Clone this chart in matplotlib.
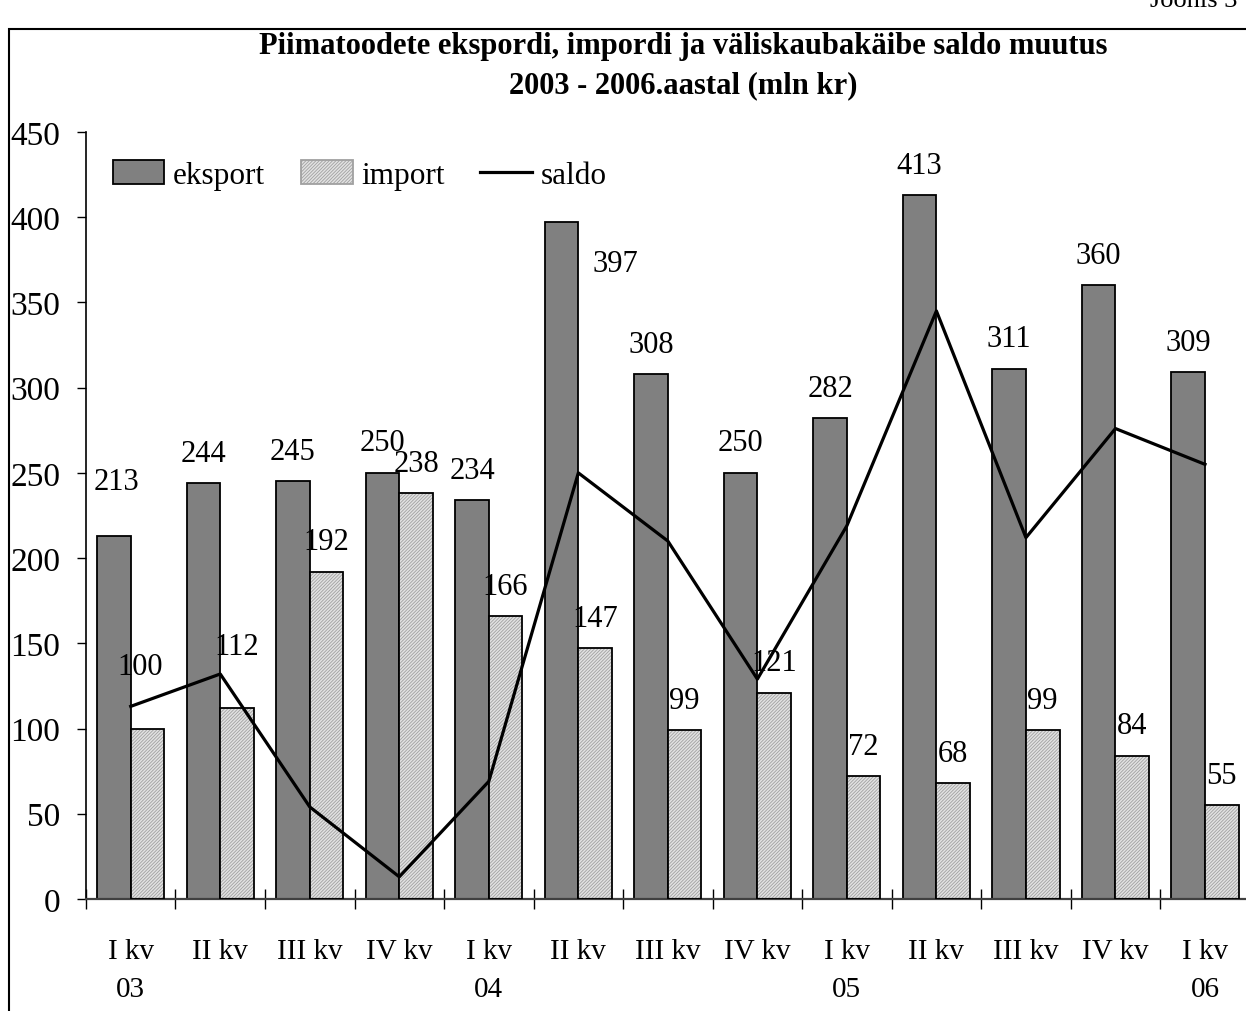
import matplotlib.pyplot as plt
from matplotlib.patches import Patch, Rectangle
from matplotlib.lines import Line2D
import numpy as np

plt.rcParams['font.family'] = ['Liberation Serif', 'DejaVu Serif']
plt.rcParams['hatch.linewidth'] = 0.6

# andmed (mln kr)
kvartalid = ['I kv\n03', 'II kv', 'III kv', 'IV kv', 'I kv\n04', 'II kv', 'III kv',
             'IV kv', 'I kv\n05', 'II kv', 'III kv', 'IV kv', 'I kv\n06']
eksport = [213, 244, 245, 250, 234, 397, 308, 250, 282, 413, 311, 360, 309]
import_ = [100, 112, 192, 238, 166, 147, 99, 121, 72, 68, 99, 84, 55]
saldo = [113, 132, 54, 13, 69, 250, 210, 129, 219, 345, 212, 276, 255]

# sildi nihked pikslites (x, y) – käsitsi nihutatud sildid
eks_nihe = {0: (3, 24), 5: (54, -71)}
imp_nihe = {0: (-7, 32), 1: (0, 32)}

fig = plt.figure(figsize=(12.46, 10.12), dpi=100)
ax = fig.add_axes([0.069, 0.1107, 0.934, 0.7579])

x = np.arange(len(kvartalid))
w = 0.375
ax.bar(x - w / 2, eksport, w, color='#808080', edgecolor='black', lw=1.3, zorder=2)
ax.bar(x + w / 2, import_, w, color='#e2e2e2', edgecolor='#a0a0a0', hatch='//////////',
       lw=0, zorder=2)
ax.bar(x + w / 2, import_, w, fill=False, edgecolor='black', lw=1.3, zorder=3)
ax.plot(x, saldo, color='black', lw=2.3, zorder=4)

for i in range(len(x)):
    dx, dy = eks_nihe.get(i, (0, 0))
    ax.annotate(str(eksport[i]), (x[i] - w / 2, eksport[i]), xytext=(dx * 0.72, (30 + dy) * 0.72),
                textcoords='offset points', ha='center', va='center', fontsize=22, zorder=5)
    dx, dy = imp_nihe.get(i, (0, 0))
    ax.annotate(str(import_[i]), (x[i] + w / 2, import_[i]), xytext=(dx * 0.72, (30 + dy) * 0.72),
                textcoords='offset points', ha='center', va='center', fontsize=22, zorder=5)

ax.set_xlim(-0.5, len(x) - 0.5)
ax.set_ylim(0, 450)
ax.set_yticks(range(0, 451, 50))
ax.tick_params(axis='y', labelsize=24, length=6.5, width=1, direction='out', pad=12)
ax.set_xticks(x)
ax.set_xticklabels(kvartalid, fontsize=21, linespacing=1.6)
ax.set_xticks(np.arange(-0.5, len(x), 1), minor=True)
ax.tick_params(axis='x', which='major', length=0, pad=28)
ax.tick_params(axis='x', which='minor', length=14, width=1, direction='inout')
for s in ['top', 'right']:
    ax.spines[s].set_visible(False)
ax.spines['left'].set_linewidth(1.2)
ax.spines['bottom'].set_linewidth(1.6)
ax.spines['bottom'].set_color('#404040')

kaepid = [Patch(facecolor='#808080', edgecolor='black', lw=1.3),
          Patch(facecolor='#e2e2e2', edgecolor='#a0a0a0', hatch='//////////', lw=1.3),
          Line2D([0], [0], color='black', lw=2.3)]
leg = ax.legend(kaepid, ['eksport', 'import', 'saldo'], ncol=3, frameon=False,
                loc='upper left', bbox_to_anchor=(-0.001, 1.0), fontsize=22.5,
                handlelength=1.65, handleheight=0.8, columnspacing=1.15, handletextpad=0.27)

fig.text(683 / 1246, 1 - 66 / 1012,
         'Piimatoodete ekspordi, impordi ja väliskaubakäibe saldo muutus\n2003 - 2006.aastal (mln kr)',
         ha='center', va='center', fontsize=22, fontweight='bold', linespacing=1.45)
fig.text(1150 / 1246, 1 - 7 / 1012, 'Joonis 3', ha='left', va='baseline', fontsize=19)

fig.add_artist(Rectangle((9 / 1246, -0.5), 2, 0.5 + 1 - 30 / 1012, transform=fig.transFigure,
                         fill=False, edgecolor='black', lw=1.5))

fig.savefig('out.png', dpi=100)
